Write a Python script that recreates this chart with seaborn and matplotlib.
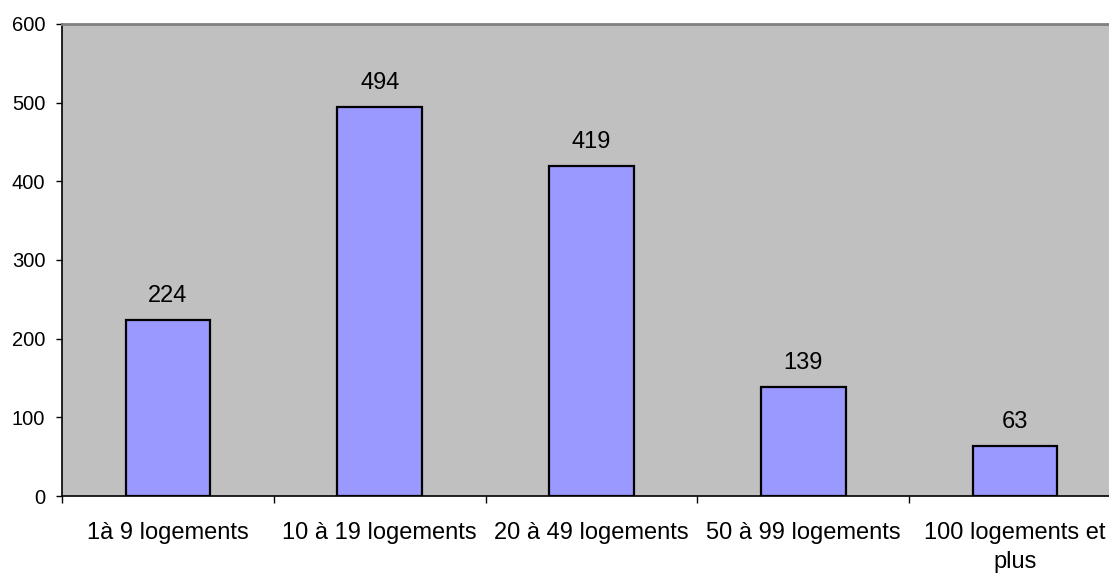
import matplotlib
matplotlib.use("Agg")
import matplotlib.pyplot as plt
import seaborn as sns
import pandas as pd

categories = ["1à 9 logements", "10 à 19 logements", "20 à 49 logements",
              "50 à 99 logements", "100 logements et\nplus"]
values = [224, 494, 419, 139, 63]
y_ticks = [0, 100, 200, 300, 400, 500, 600]

sns.set_theme(style="white")
plt.rcParams["font.family"] = ["Liberation Sans", "DejaVu Sans"]

df = pd.DataFrame({"cat": categories, "val": values})

fig = plt.figure(figsize=(11.09, 5.73), dpi=100)
ax = fig.add_axes([62 / 1109, 1 - 496 / 573, (1121 - 62) / 1109, (496 - 24) / 573])
ax.set_facecolor("#C0C0C0")

sns.barplot(data=df, x="cat", y="val", ax=ax, color="#9999FF", saturation=1,
            width=0.40, edgecolor="black", linewidth=1.6)

for i, v in enumerate(values):
    ax.annotate(str(v), (i, v), xytext=(0, 13), textcoords="offset points",
                ha="center", va="baseline", fontsize=17, color="black")

ax.set_ylim(0, 600)
ax.set_xlim(-0.5, len(categories) - 0.5)
ax.set_yticks(y_ticks)
ax.set_yticklabels([str(t) for t in y_ticks], fontsize=14.5, color="black")
ax.set_xticks(range(len(categories)))
ax.set_xticklabels(categories, fontsize=17, color="black", linespacing=1.4)
ax.tick_params(axis="x", length=0, pad=19)
ax.tick_params(axis="y", length=4, width=1, color="black", pad=8, left=True)

# category separators on the x axis
ax.set_xticks([i - 0.5 for i in range(len(categories) + 1)], minor=True)
ax.tick_params(axis="x", which="minor", length=5, width=1, color="black", bottom=True)

ax.set_xlabel("")
ax.set_ylabel("")
for side in ["left", "bottom"]:
    ax.spines[side].set_color("black")
    ax.spines[side].set_linewidth(1.2)
ax.spines["top"].set_color("#808080")
ax.spines["top"].set_linewidth(2)
ax.spines["right"].set_color("#808080")
ax.spines["right"].set_linewidth(2)

fig.savefig("out.png", dpi=100)
